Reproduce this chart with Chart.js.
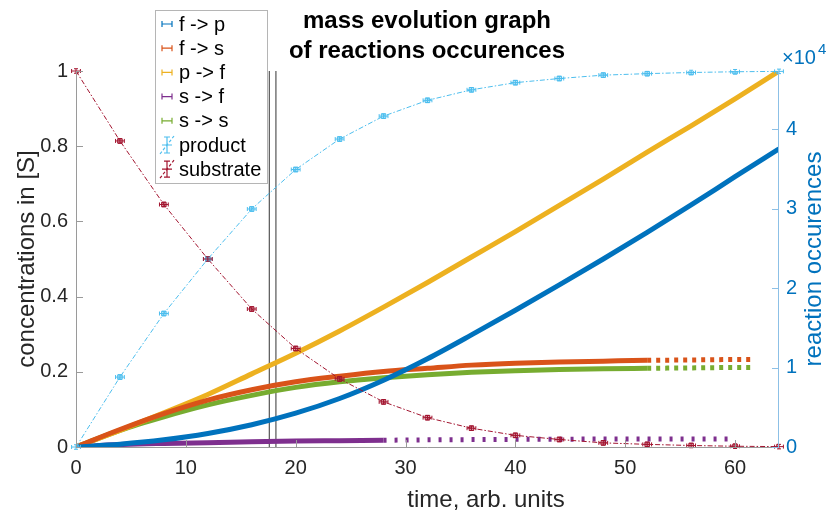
<!DOCTYPE html>
<html>
<head>
<meta charset="utf-8">
<script src="https://cdn.jsdelivr.net/npm/chart.js"></script>
<style>
  html, body { margin: 0; padding: 0; background: #fff; }
  #wrap { width: 834px; height: 513px; }
</style>
</head>
<body>
<div id="wrap"><canvas id="chart" width="834" height="513"></canvas></div>
<script>
const FONT = '"Liberation Sans", Arial, Helvetica, sans-serif';

// --- data ---
const tSample = [0, 4, 8, 12, 16, 20, 24, 28, 32, 36, 40, 44, 48, 52, 56, 60, 64];
const productConc = [0, 0.186, 0.355, 0.5, 0.633, 0.738, 0.819, 0.88, 0.922, 0.95, 0.969, 0.98, 0.989, 0.993, 0.996, 0.998, 0.999];
const substrateConc = [1, 0.814, 0.645, 0.5, 0.367, 0.262, 0.181, 0.12, 0.078, 0.05, 0.031, 0.02, 0.011, 0.007, 0.004, 0.002, 0.001];

// reaction occurences (counts)
const fToP = [0, 350, 900, 1700, 2800, 4250, 6100, 8400, 11100, 14100, 17200, 20400, 23650, 27000, 30450, 34000, 37500];
const pToF = [0, 2100, 4300, 6600, 9200, 11800, 14600, 17600, 20700, 23900, 27100, 30400, 33700, 37100, 40400, 43800, 47300];
const tPartial = [0, 4, 8, 12, 16, 20, 24, 28, 32, 36, 40, 44, 48, 52, 56, 60, 61.6];
const fToS = [0, 2200, 4200, 5900, 7200, 8200, 8900, 9500, 9900, 10300, 10550, 10700, 10800, 10900, 10950, 11000, 11000];
const sToS = [0, 2100, 3800, 5300, 6500, 7500, 8200, 8700, 9100, 9400, 9600, 9750, 9850, 9900, 9950, 10000, 10000];
const tPurple = [0, 4, 8, 12, 16, 20, 24, 28, 32, 36, 40, 44, 48, 52, 56, 59.7];
const sToF = [0, 300, 450, 550, 650, 750, 800, 850, 900, 930, 960, 980, 1000, 1000, 1000, 1000];

const markTimes = [17.6, 18.2];
const tErr = 0.4;
const concErr = 0.006;

const xTicks = [0, 10, 20, 30, 40, 50, 60];
const leftTicks = [0, 0.2, 0.4, 0.6, 0.8, 1];
const rightTicks = [0, 10000, 20000, 30000, 40000];
const rightMax = 47300;

const legendLabels = ['f -> p', 'f -> s', 'p -> f', 's -> f', 's -> s', 'product', 'substrate'];
const COLORS = ['#0072BD', '#D95319', '#EDB120', '#7E2F8E', '#77AC30', '#4DBEEE', '#A2142F'];

const pts = (xs, ys) => xs.map((x, i) => ({ x: x, y: ys[i] }));

function reactionSet(label, xs, ys, color, dashFrom, dash) {
    return {
        label: label,
        data: pts(xs, ys),
        yAxisID: 'y2',
        borderColor: color,
        borderWidth: 5,
        pointRadius: 0,
        cubicInterpolationMode: 'monotone',
        borderCapStyle: 'butt',
        order: 2,
        segment: {
            borderDash: c => (dashFrom != null && c.p0.parsed.x >= dashFrom) ? dash : undefined
        }
    };
}

function concSet(label, ys, color) {
    return {
        label: label,
        data: pts(tSample, ys),
        yAxisID: 'y',
        borderColor: color,
        borderWidth: 1,
        borderDash: [5, 2, 1.5, 2],
        pointStyle: 'rect',
        pointRadius: 3.2,
        pointBorderWidth: 1,
        pointBackgroundColor: color + '66',
        pointBorderColor: color,
        tension: 0,
        order: 0,
        errorBars: true
    };
}

const datasets = [
    reactionSet('f -> p', tSample, fToP, COLORS[0], null, null),
    reactionSet('f -> s', tPartial, fToS, COLORS[1], 52, [4, 5]),
    reactionSet('p -> f', tSample, pToF, COLORS[2], null, null),
    reactionSet('s -> f', tPurple, sToF, COLORS[3], 28, [3, 8]),
    reactionSet('s -> s', tPartial, sToS, COLORS[4], 52, [4, 5]),
    concSet('product', productConc, COLORS[5]),
    concSet('substrate', substrateConc, COLORS[6])
];
markTimes.forEach(t => {
    datasets.push({
        label: 'mark',
        data: [{ x: t, y: 0 }, { x: t, y: 1 }],
        yAxisID: 'y',
        borderColor: '#555',
        borderWidth: 1.2,
        pointRadius: 0,
        order: 3
    });
});

// error bars on the concentration curves
const errorBars = {
    id: 'errorBars',
    afterDatasetsDraw(chart) {
        const { ctx, scales: { x, y } } = chart;
        ctx.save();
        chart.data.datasets.forEach((ds, i) => {
            if (!ds.errorBars) return;
            ctx.strokeStyle = ds.borderColor;
            ctx.lineWidth = 1;
            ds.data.forEach(p => {
                const px = x.getPixelForValue(p.x);
                const py = y.getPixelForValue(p.y);
                const x0 = x.getPixelForValue(p.x - tErr);
                const x1 = x.getPixelForValue(p.x + tErr);
                const y0 = y.getPixelForValue(p.y - concErr);
                const y1 = y.getPixelForValue(p.y + concErr);
                ctx.beginPath();
                ctx.moveTo(x0, py); ctx.lineTo(x1, py);
                ctx.moveTo(x0, py - 2); ctx.lineTo(x0, py + 2);
                ctx.moveTo(x1, py - 2); ctx.lineTo(x1, py + 2);
                ctx.moveTo(px, y0); ctx.lineTo(px, y1);
                ctx.moveTo(px - 2, y0); ctx.lineTo(px + 2, y0);
                ctx.moveTo(px - 2, y1); ctx.lineTo(px + 2, y1);
                ctx.stroke();
            });
        });
        ctx.restore();
    }
};

// axes, inward ticks, titles, legend
const decor = {
    id: 'decor',
    afterDraw(chart) {
        const { ctx, chartArea: a, scales: { x, y, y2 } } = chart;
        ctx.save();

        // axis lines
        ctx.lineWidth = 1;
        ctx.strokeStyle = '#9a9a9a';
        ctx.beginPath();
        ctx.moveTo(a.left + 0.5, a.top); ctx.lineTo(a.left + 0.5, a.bottom + 0.5);
        ctx.lineTo(a.right, a.bottom + 0.5);
        ctx.stroke();
        xTicks.forEach(v => {
            const px = Math.round(x.getPixelForValue(v)) + 0.5;
            ctx.beginPath(); ctx.moveTo(px, a.bottom); ctx.lineTo(px, a.bottom - 7); ctx.stroke();
        });
        leftTicks.forEach(v => {
            const py = Math.round(y.getPixelForValue(v)) + 0.5;
            ctx.beginPath(); ctx.moveTo(a.left, py); ctx.lineTo(a.left + 7, py); ctx.stroke();
        });
        ctx.strokeStyle = '#8cc0e6';
        ctx.beginPath();
        ctx.moveTo(a.right - 0.5, a.top); ctx.lineTo(a.right - 0.5, a.bottom + 0.5);
        ctx.stroke();
        rightTicks.forEach(v => {
            const py = Math.round(y2.getPixelForValue(v)) + 0.5;
            ctx.beginPath(); ctx.moveTo(a.right, py); ctx.lineTo(a.right - 7, py); ctx.stroke();
        });

        // exponent label
        ctx.fillStyle = '#0072BD';
        ctx.textBaseline = 'alphabetic';
        ctx.textAlign = 'left';
        ctx.font = '20px ' + FONT;
        ctx.fillText('\u00d710', 782, 64);
        ctx.font = '15px ' + FONT;
        ctx.fillText('4', 818, 54);

        // axis titles
        ctx.textAlign = 'center';
        ctx.textBaseline = 'middle';
        ctx.font = '24px ' + FONT;
        ctx.fillStyle = '#262626';
        ctx.fillText('time, arb. units', 486, 500);
        ctx.save();
        ctx.translate(27, 259); ctx.rotate(-Math.PI / 2);
        ctx.fillText('concentrations in [S]', 0, 0);
        ctx.restore();
        ctx.save();
        ctx.fillStyle = '#0072BD';
        ctx.translate(814, 259); ctx.rotate(-Math.PI / 2);
        ctx.fillText('reaction occurences', 0, 0);
        ctx.restore();

        // title
        ctx.font = 'bold 24px ' + FONT;
        ctx.fillStyle = '#000';
        ctx.fillText('mass evolution graph', 427, 21);
        ctx.fillText('of reactions occurences', 427, 51);

        // legend
        const lx = 155, ly = 10, lw = 112, lh = 173;
        ctx.fillStyle = '#fff';
        ctx.fillRect(lx, ly, lw, lh);
        ctx.strokeStyle = '#b5b5b5';
        ctx.lineWidth = 1;
        ctx.strokeRect(lx + 0.5, ly + 0.5, lw, lh);
        ctx.font = '20px ' + FONT;
        ctx.textAlign = 'left';
        legendLabels.forEach((lab, i) => {
            const cy = 24 + i * 24.2;
            const c = COLORS[i];
            ctx.strokeStyle = c;
            ctx.lineWidth = 1.2;
            ctx.beginPath();
            if (i < 5) {
                ctx.moveTo(162, cy); ctx.lineTo(172, cy);
                ctx.moveTo(162, cy - 3); ctx.lineTo(162, cy + 3);
                ctx.moveTo(172, cy - 3); ctx.lineTo(172, cy + 3);
            } else {
                ctx.moveTo(167, cy - 8); ctx.lineTo(167, cy + 8);
                ctx.moveTo(164, cy - 8); ctx.lineTo(170, cy - 8);
                ctx.moveTo(164, cy + 8); ctx.lineTo(170, cy + 8);
                ctx.moveTo(162, cy); ctx.lineTo(172, cy);
                ctx.stroke();
                ctx.setLineDash([3, 2]);
                ctx.beginPath();
                ctx.moveTo(160, cy + 9); ctx.lineTo(174, cy - 9);
            }
            ctx.stroke();
            ctx.setLineDash([]);
            ctx.fillStyle = '#000';
            ctx.fillText(lab, 179, cy + 1);
        });

        ctx.restore();
    }
};

new Chart(document.getElementById('chart'), {
    type: 'line',
    data: { datasets: datasets },
    options: {
        responsive: false,
        animation: false,
        layout: { padding: { top: 71, left: 0, right: 0, bottom: 0 } },
        plugins: { legend: { display: false }, tooltip: { enabled: false }, title: { display: false } },
        scales: {
            x: {
                type: 'linear', min: 0, max: 64,
                grid: { display: false, drawTicks: false },
                border: { display: false },
                afterBuildTicks: s => { s.ticks = xTicks.map(v => ({ value: v })); },
                afterFit: s => { s.height = 66; },
                ticks: { padding: 9, color: '#262626', font: { family: FONT, size: 20 }, maxRotation: 0 }
            },
            y: {
                position: 'left', min: 0, max: 1,
                grid: { display: false, drawTicks: false },
                border: { display: false },
                afterBuildTicks: s => { s.ticks = leftTicks.map(v => ({ value: v })); },
                afterFit: s => { s.width = 76; },
                ticks: { padding: 8, color: '#262626', font: { family: FONT, size: 20 }, callback: v => String(v) }
            },
            y2: {
                position: 'right', min: 0, max: rightMax,
                grid: { display: false, drawTicks: false },
                border: { display: false },
                afterBuildTicks: s => { s.ticks = rightTicks.map(v => ({ value: v })); },
                afterFit: s => { s.width = 55; },
                ticks: { padding: 7, color: '#0072BD', font: { family: FONT, size: 20 }, callback: v => String(v / 10000) }
            }
        }
    },
    plugins: [errorBars, decor]
});
</script>
</body>
</html>
